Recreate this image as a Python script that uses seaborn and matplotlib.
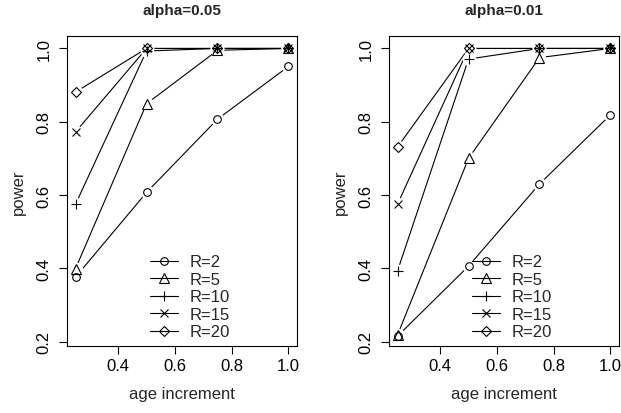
import matplotlib
matplotlib.use("Agg")
import matplotlib.pyplot as plt
from matplotlib.lines import Line2D
import seaborn as sns
import pandas as pd

# ---- data ----
age = [0.25, 0.5, 0.75, 1.0]
R_levels = [2, 5, 10, 15, 20]
titles = ["alpha=0.05", "alpha=0.01"]

a05_R2 = [0.376, 0.607, 0.807, 0.951]
a05_R5 = [0.399, 0.849, 0.995, 1.0]
a05_R10 = [0.575, 0.993, 1.0, 1.0]
a05_R15 = [0.772, 1.0, 1.0, 1.0]
a05_R20 = [0.881, 1.0, 1.0, 1.0]

a01_R2 = [0.215, 0.406, 0.630, 0.819]
a01_R5 = [0.218, 0.700, 0.975, 1.0]
a01_R10 = [0.393, 0.971, 1.0, 1.0]
a01_R15 = [0.575, 1.0, 1.0, 1.0]
a01_R20 = [0.731, 1.0, 1.0, 1.0]

panels = [
    [a05_R2, a05_R5, a05_R10, a05_R15, a05_R20],
    [a01_R2, a01_R5, a01_R10, a01_R15, a01_R20],
]

markers = {2: "o", 5: "^", 10: "+", 15: "x", 20: "D"}
msizes = {2: 5.5, 5: 6.5, 10: 7.5, 15: 5.2, 20: 5.5}

sns.set_theme(style="ticks")
plt.rcParams["font.family"] = ["Liberation Sans", "DejaVu Sans"]

fig = plt.figure(figsize=(6.21, 4.14), dpi=100)
axes_pos = [[67 / 621, 1 - 347 / 414, 230 / 621, 310 / 414],
            [389 / 621, 1 - 347 / 414, 230 / 621, 310 / 414]]

for p, (pos, title, series) in enumerate(zip(axes_pos, titles, panels)):
    ax = fig.add_axes(pos)
    rows = []
    for R, vals in zip(R_levels, series):
        for a, v in zip(age, vals):
            rows.append({"age": a, "power": v, "R": R})
    d = pd.DataFrame(rows)

    sns.lineplot(data=d, x="age", y="power", units="R", estimator=None,
                 color="black", lw=0.8, ax=ax, zorder=2, legend=False)
    # gaps around points (R type="b")
    sns.scatterplot(data=d, x="age", y="power", color="white", s=95,
                    linewidth=0, ax=ax, zorder=3, legend=False)
    for R in R_levels:
        sub = d[d["R"] == R]
        ax.plot(sub["age"], sub["power"], ls="", marker=markers[R],
                ms=msizes[R], mfc="none", mec="black", mew=0.8, zorder=4)

    ax.set_xlim(0.22, 1.03)
    ax.set_ylim(0.188, 1.034)
    ax.set_xticks([0.4, 0.6, 0.8, 1.0])
    ax.set_xticklabels(["0.4", "0.6", "0.8", "1.0"])
    ax.set_yticks([0.2, 0.4, 0.6, 0.8, 1.0])
    ax.set_yticklabels(["0.2", "0.4", "0.6", "0.8", "1.0"], rotation=90, va="center")
    ax.tick_params(axis="both", direction="out", length=6, width=0.8,
                   labelsize=12, colors="black")
    ax.tick_params(axis="x", pad=3)
    ax.tick_params(axis="y", pad=5)
    for s in ax.spines.values():
        s.set_visible(True)
        s.set_linewidth(0.8)
        s.set_color("black")
    ax.set_xlabel("age increment", fontsize=12, labelpad=9)
    ax.set_ylabel("power", fontsize=12, labelpad=8)
    ax.set_title(title, fontsize=11, fontweight="bold", pad=16)

    handles = [Line2D([0], [0], color="black", lw=0.8, marker=markers[R],
                      ms=msizes[R], mfc="none", mec="black", mew=0.8)
               for R in R_levels]
    labels = [f"R={R}" for R in R_levels]
    ax.legend(handles, labels, loc="lower left", bbox_to_anchor=(0.33, 0.0),
              frameon=False, fontsize=12, handlelength=1.7, handletextpad=0.7,
              labelspacing=0.15, borderpad=0.2, borderaxespad=0.2)

fig.savefig("out.png", dpi=100)
